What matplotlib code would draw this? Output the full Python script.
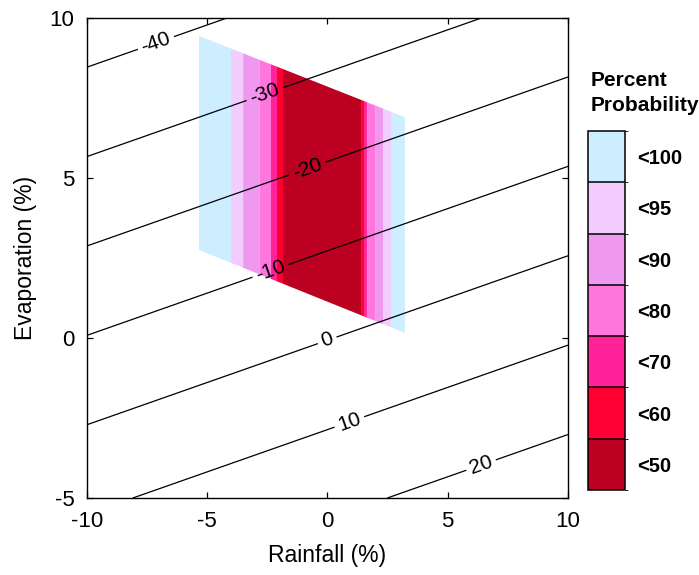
import numpy as np
import matplotlib
matplotlib.use('Agg')
import matplotlib.pyplot as plt
from matplotlib.colors import ListedColormap, BoundaryNorm
import matplotlib.cm as cm

plt.rcParams['font.family'] = ['Liberation Sans', 'DejaVu Sans']
plt.rcParams['axes.unicode_minus'] = False

# ---- data ----
# linear response surface for the contour lines:
# value = rain_coef*rain + evap_coef*evap + offset
rain_coef = 0.945
evap_coef = -3.58
offset = -0.25
line_levels = [-40, -30, -20, -10, 0, 10, 20]
label_pos = [(-7.1, 9.15), (-2.6, 7.6), (-0.9, 5.4), (-2.6, 2.6),
             (0.0, -0.1), (0.9, -2.6), (6.4, -4.0)]

prob_labels = ['<50', '<60', '<70', '<80', '<90', '<95', '<100']
prob_levels = [50, 60, 70, 80, 90, 95, 100]
prob_colors = ['#BB0022', '#FF0033', '#FF2299', '#FF77DD',
               '#EE99EE', '#F2CCFF', '#CCEEFF']
# band boundaries along rainfall axis (inner -> outer)
left_bounds = [-1.85, -2.10, -2.35, -2.81, -3.51, -4.01, -5.34]
right_bounds = [1.43, 1.52, 1.64, 1.98, 2.31, 2.64, 3.22]
center_rain = -0.2
# sheared region edges (evaporation at left / right end)
top_edge = [9.44, 6.90]
bottom_edge = [2.75, 0.16]

# ---- figure ----
fig = plt.figure(figsize=(6.99, 5.75), dpi=100)
ax = fig.add_axes([0.1245, 0.1339, 0.688, 0.8348])

# filled probability region
xl, xr = left_bounds[-1], right_bounds[-1]
U, V = np.meshgrid(np.linspace(xl, xr, 900), np.linspace(0, 1, 200))
top = np.interp(U, [xl, xr], top_edge)
bot = np.interp(U, [xl, xr], bottom_edge)
Yg = bot + V * (top - bot)
xp = left_bounds[::-1] + [center_rain] + right_bounds
fp = prob_levels[::-1] + [0] + prob_levels
P = np.interp(U, xp, fp)
ax.contourf(U, Yg, P, levels=[0] + prob_levels, colors=prob_colors,
            antialiased=True)

# contour lines
X, Y = np.meshgrid(np.linspace(-10, 10, 401), np.linspace(-5, 10, 301))
Z = rain_coef * X + evap_coef * Y + offset
cs = ax.contour(X, Y, Z, levels=line_levels, colors='k', linewidths=0.9,
                linestyles='solid')
ax.clabel(cs, fmt='%d', manual=label_pos, fontsize=15, inline=True,
          inline_spacing=4)

ax.set_xlim(-10, 10)
ax.set_ylim(-5, 10)
ax.set_xticks([-10, -5, 0, 5, 10])
ax.set_yticks([-5, 0, 5, 10])
ax.tick_params(direction='in', length=4, width=0.9, top=True, right=True,
               labelsize=16, pad=9)
for s in ax.spines.values():
    s.set_linewidth(1.0)
ax.set_xlabel('Rainfall (%)', fontsize=16.5, labelpad=9)
ax.set_ylabel('Evaporation (%)', fontsize=16.5, labelpad=9)

# legend as colorbar
cax = fig.add_axes([0.841, 0.148, 0.053, 0.624])
sm = cm.ScalarMappable(norm=BoundaryNorm(np.arange(8), 7),
                       cmap=ListedColormap(prob_colors))
cb = fig.colorbar(sm, cax=cax, drawedges=True, ticks=np.arange(7) + 0.5)
cb.set_ticklabels(prob_labels)
cax.tick_params(length=0, pad=9, labelsize=14.5)
for t in cax.get_yticklabels():
    t.set_fontweight('bold')
cb.outline.set_linewidth(1.1)
cb.dividers.set_linewidth(1.1)
cb.dividers.set_color('k')

fig.text(0.8455, 1 - 80 / 575, 'Percent', fontsize=15, fontweight='bold',
         va='center', ha='left')
fig.text(0.8455, 1 - 105 / 575, 'Probability', fontsize=15, fontweight='bold',
         va='center', ha='left')

fig.savefig('out.png', dpi=100)
